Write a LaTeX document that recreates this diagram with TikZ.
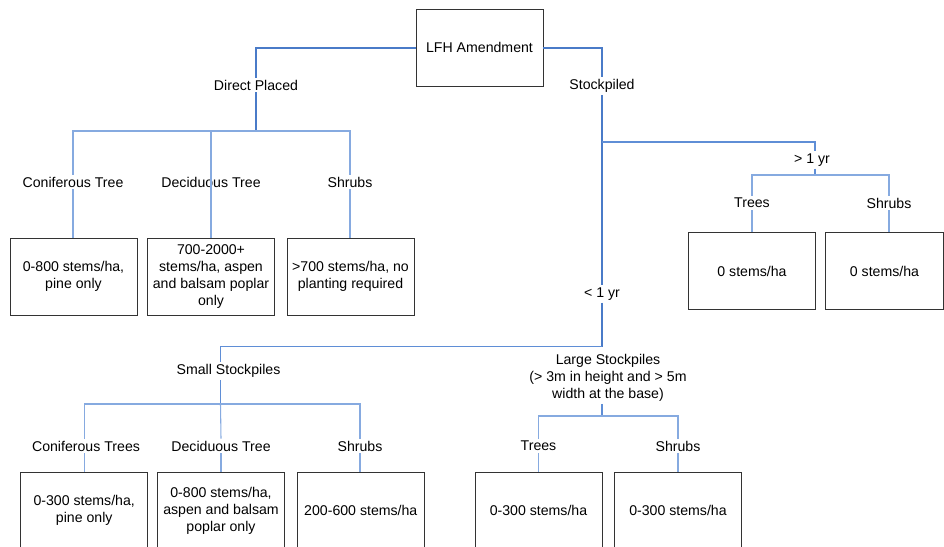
\documentclass[tikz,border=0pt]{standalone}
\usepackage{fontspec}
\setmainfont{Liberation Sans}
\usepackage{xcolor}
\definecolor{trunkblue}{HTML}{4A7BC8}
\definecolor{branchblue}{HTML}{5F8ED6}
\definecolor{twigblue}{HTML}{86AAE0}
\definecolor{boxline}{HTML}{333333}
\usepackage{tikz}
\usetikzlibrary{positioning, calc}

\begin{document}
\begin{tikzpicture}[
    x=0.75pt, y=-0.75pt,
    font=\fontsize{10.6}{12.75}\selectfont,
    box/.style={draw=boxline, line width=0.65pt, minimum width=95.25pt, minimum height=57.75pt, align=center, inner sep=2pt},
    lbl/.style={align=center, inner sep=1.5pt},
    trunk/.style={draw=trunkblue, line width=1.5pt},
    branch/.style={draw=branchblue, line width=1.1pt},
    twig/.style={draw=twigblue, line width=0.8pt}
]

% ── Page ──
\useasboundingbox (0,0) rectangle (944,546);
\clip (0,0) rectangle (944,546);

% ── Root ──
\node[box] (root) at (479.5,47.5) {LFH Amendment};

% ── Direct Placed ──
\node[lbl] (direct) at (256,85) {Direct Placed};
\coordinate (djn) at (256,131);
\node[lbl] (dcon) at (73,182) {Coniferous Tree};
\node[lbl] (ddec) at (211,182) {Deciduous Tree};
\node[lbl] (dshr) at (350,182) {Shrubs};

\node[box] (bdcon) at (73.5,276.5) {0-800 stems/ha,\\pine only};
\node[box] (bddec) at (211,276.5) {700-2000+\\stems/ha, aspen\\and balsam poplar\\only};
\node[box] (bdshr) at (350.5,276.5) {>700 stems/ha, no\\planting required};

% ── Stockpiled ──
\node[lbl] (stock) at (602,86) {Stockpiled};
\coordinate (gjn) at (602,142);
\node[lbl] (gt1) at (812,160) {> 1 yr};
\coordinate (ghi) at (815,175);
\node[lbl] (gtre) at (752,203) {Trees};
\node[lbl] (gshr) at (889,203) {Shrubs};
\node[box] (bgtre) at (752,271) {0 stems/ha};
\node[box, minimum width=88.2pt] (bgshr) at (884.5,271) {0 stems/ha};

\node[lbl] (lt1) at (602,294) {< 1 yr};
\coordinate (sjn) at (602,346.7);

% ── Small Stockpiles ──
\node[lbl] (small) at (228.5,371) {Small Stockpiles};
\coordinate (sjs) at (220.5,404);
\node[lbl] (scon) at (86,446) {Coniferous Trees};
\node[lbl] (sdec) at (221,446) {Deciduous Tree};
\node[lbl] (sshr) at (360,446) {Shrubs};
\node[box] (bscon) at (84.2,510.8) {0-300 stems/ha,\\pine only};
\node[box] (bsdec) at (221,510.8) {0-800 stems/ha,\\aspen and balsam\\poplar only};
\node[box] (bsshr) at (360.8,510.8) {200-600 stems/ha};

% ── Large Stockpiles ──
\node[lbl] (large) at (608,378) {Large Stockpiles\\(> 3m in height and > 5m\\width at the base)};
\coordinate (ljn) at (602,416);
\node[lbl] (ltre) at (538.5,446) {Trees};
\node[lbl] (lshr) at (678,446) {Shrubs};
\node[box] (bltre) at (538.5,510.8) {0-300 stems/ha};
\node[box] (blshr) at (678,510.8) {0-300 stems/ha};

% ── Connectors: root ──
\draw[trunk] (root.west) -| (direct.north);
\draw[trunk] (root.east) -| (stock.north);
\draw[trunk] (direct.south) -- (djn);
\draw[trunk] (stock.south) -- (lt1.north);
\draw[trunk] (lt1.south) -- (sjn);

% ── Connectors: direct placed ──
\draw[twig] (dcon.north) |- (djn) -| (dshr.north);
\draw[twig] (djn -| bddec.north) -- (bddec.north);
\draw[twig] (dcon.south) -- (dcon.south |- bdcon.north);
\draw[twig] (dshr.south) -- (dshr.south |- bdshr.north);

% ── Connectors: > 1 yr ──
\draw[branch] (gjn) -| (gt1.north -| ghi);
\draw[branch] (gt1.south -| ghi) -- (ghi);
\draw[twig] (gtre.north) |- (ghi) -| (gshr.north);
\draw[twig] (gtre.south) -- (gtre.south |- bgtre.north);
\draw[twig] (gshr.south) -- (gshr.south |- bgshr.north);

% ── Connectors: < 1 yr ──
\draw[branch] (sjn) -| (small.north -| sjs);
\draw[branch] (small.south -| sjs) -- (sjs);
\draw[twig] (scon.north -| bscon.north) |- (sjs) -| (sshr.north);
\draw[twig] (sjs) -- (sdec.north);
\draw[twig] (scon.south -| bscon.north) -- (bscon.north);
\draw[twig] (sdec.south) -- (bsdec.north);
\draw[twig] (sshr.south) -- (sshr.south |- bsshr.north);

\draw[branch] (large.south -| sjn) -- (ljn);
\draw[twig] (ltre.north) |- (ljn) -| (lshr.north);
\draw[twig] (ltre.south) -- (bltre.north);
\draw[twig] (lshr.south) -- (blshr.north);
\end{tikzpicture}
\end{document}
